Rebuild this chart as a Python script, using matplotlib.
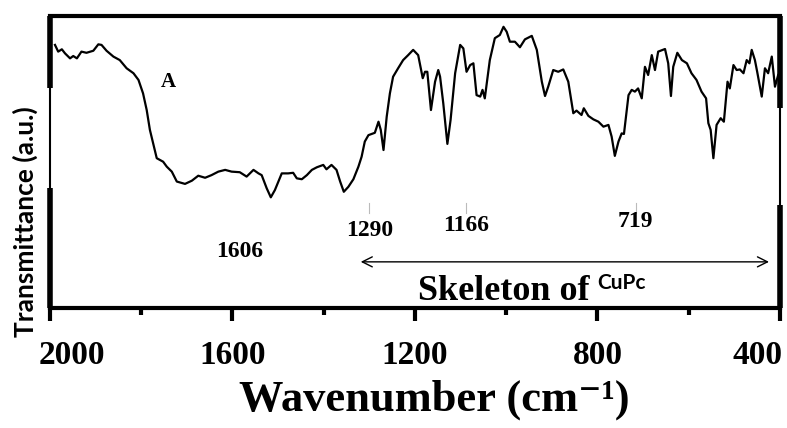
import matplotlib
matplotlib.use("Agg")
import matplotlib.pyplot as plt
import matplotlib.transforms as mtransforms

# FTIR spectrum of CuPc
wavenumber = [1989, 1982, 1974, 1967, 1956, 1949, 1941, 1931, 1920, 1905,
              1894, 1887, 1876, 1861, 1847, 1832, 1817, 1806, 1796, 1788,
              1781, 1774, 1766, 1759, 1752, 1744, 1733, 1722, 1704, 1689,
              1675, 1660, 1646, 1631, 1616, 1602, 1584, 1569, 1554, 1543,
              1536, 1525, 1516, 1507, 1492, 1478, 1467, 1459, 1448, 1437,
              1426, 1415, 1401, 1394, 1383, 1372, 1364, 1356, 1346, 1335,
              1324, 1317, 1310, 1302, 1288, 1280, 1275, 1269, 1262, 1255,
              1248, 1237, 1226, 1215, 1204, 1193, 1183, 1178, 1173, 1165,
              1156, 1149, 1145, 1138, 1129, 1122, 1112, 1101, 1094, 1087,
              1079, 1072, 1065, 1057, 1052, 1047, 1036, 1025, 1014, 1006,
              999, 992, 981, 970, 959, 944, 933, 922, 915, 908,
              897, 886, 875, 864, 853, 846, 835, 830, 820, 809,
              798, 787, 776, 769, 762, 754, 747, 742, 732, 725,
              718, 711, 703, 696, 689, 681, 674, 667, 652, 645,
              639, 634, 625, 615, 604, 594, 583, 572, 562, 557,
              552, 546, 539, 530, 523, 515, 510, 502, 495, 488,
              480, 473, 467, 462, 455, 450, 440, 433, 426, 418,
              411, 404]
transmittance = [90.1, 87.8, 88.6, 87.2, 85.5, 86.3, 85.5, 87.8, 87.4, 88.1,
                 90.3, 90.1, 88.1, 86.1, 84.9, 82.1, 80.4, 78.1, 73.5, 67.8,
                 61.0, 56.4, 51.3, 50.7, 50.1, 48.4, 46.7, 43.3, 42.5, 43.6,
                 45.3, 44.6, 45.5, 46.7, 47.3, 46.7, 46.5, 45.0, 47.3, 46.1,
                 45.5, 41.0, 37.9, 40.4, 46.1, 46.1, 46.3, 44.4, 44.1, 45.5,
                 47.3, 48.2, 49.0, 47.5, 49.0, 47.3, 43.3, 39.8, 41.5, 44.1,
                 48.4, 51.8, 57.0, 59.2, 60.0, 63.8, 61.0, 54.1, 65.5, 73.5,
                 79.2, 82.1, 84.9, 86.6, 88.4, 86.6, 78.7, 80.9, 80.9, 67.8,
                 77.5, 81.5, 79.2, 70.1, 56.2, 64.4, 80.4, 90.1, 88.9, 80.9,
                 83.2, 83.8, 72.9, 72.4, 74.7, 71.8, 84.9, 92.4, 93.5, 96.3,
                 94.6, 91.2, 91.2, 89.3, 92.0, 93.2, 88.4, 77.5, 72.6, 75.8,
                 81.5, 80.9, 81.7, 77.5, 66.7, 67.6, 66.1, 68.4, 65.8, 64.6,
                 63.8, 62.1, 62.7, 58.7, 52.1, 57.0, 59.8, 59.6, 72.9, 74.7,
                 74.1, 75.2, 71.8, 82.6, 79.8, 86.6, 81.5, 87.8, 88.7, 83.8,
                 72.6, 82.6, 87.4, 84.9, 83.8, 80.4, 78.1, 74.1, 71.8, 63.3,
                 61.0, 51.3, 62.7, 65.0, 63.8, 77.5, 75.2, 83.2, 81.5, 81.7,
                 80.4, 84.9, 83.8, 88.4, 84.9, 80.9, 72.4, 82.1, 80.4, 86.1,
                 75.8, 79.8]

major_ticks = [2000, 1600, 1200, 800, 400]
minor_ticks = [1800, 1400, 1000, 600]

# peak labels (text, wavenumber, height) and the small marks above some of them
peak_labels = [("1606", 1584, 19.2), ("1290", 1299, 26.7),
               ("1166", 1088, 28.4), ("719", 718, 29.5)]
peak_marks = [1301, 1088, 716]

serif = "Liberation Serif"

fig = plt.figure(figsize=(7.87, 4.28), dpi=100)
ax = fig.add_axes([0.0635, 0.2804, 0.9276, 0.6822])

ax.plot(wavenumber, transmittance, color="black", lw=1.6)

ax.set_xlim(2000, 400)
ax.set_ylim(0, 100)
ax.set_xticks(major_ticks)
ax.set_xticks(minor_ticks, minor=True)
ax.set_yticks([])
ax.tick_params(axis="x", which="major", direction="out", length=9, width=3,
               pad=14, labelsize=24)
ax.tick_params(axis="x", which="minor", direction="out", length=5, width=3)
for lab in ax.get_xticklabels():
    lab.set_fontfamily(serif)
    lab.set_fontweight("bold")

# end labels sit inside the frame in the original
labs = ax.get_xticklabels()
labs[0].set_transform(labs[0].get_transform() +
                      mtransforms.ScaledTranslation(0.22, 0, fig.dpi_scale_trans))
labs[-1].set_transform(labs[-1].get_transform() +
                       mtransforms.ScaledTranslation(-0.22, 0, fig.dpi_scale_trans))

# frame: top and bottom thick, sides thick with a thinner middle piece
ax.spines["top"].set_linewidth(3)
ax.spines["bottom"].set_linewidth(3)
ax.spines["left"].set_visible(False)
ax.spines["right"].set_visible(False)
for x0, segs in [(0, [(0.753, 1.0, 4), (0.411, 0.753, 1.5), (0.0, 0.411, 4)]),
                 (1, [(0.685, 1.0, 4), (0.353, 0.685, 1.5), (0.0, 0.353, 4)])]:
    for y0, y1, w in segs:
        ax.plot([x0, x0], [y0, y1], color="black", lw=w,
                transform=ax.transAxes, clip_on=False, solid_capstyle="butt")

ax.set_xlabel("Wavenumber (cm\u207b\u00b9)", family=[serif, "DejaVu Serif"],
              fontweight="bold", fontsize=32)
ax.xaxis.set_label_coords(0.527, -0.245)
ax.set_ylabel("Transmittance (a.u.)", fontfamily="Lato", fontweight="bold",
              fontsize=19)
ax.yaxis.set_label_coords(-0.016, 0.295)

ax.text(1741, 77.4, "A", fontfamily=serif, fontweight="bold", fontsize=15,
        ha="center", va="center")

for txt, x, y in peak_labels:
    ax.text(x, y, txt, fontfamily=serif, fontweight="bold", fontsize=17,
            ha="center", va="center")
for x in peak_marks:
    ax.plot([x, x], [32.5, 36], color="#bbbbbb", lw=0.8)

ax.annotate("", xy=(1325, 15.8), xytext=(418, 15.8),
            arrowprops=dict(arrowstyle="<->", color="black", lw=1.0,
                            mutation_scale=18))
ax.text(1193, 5.8, "Skeleton of", fontfamily=serif, fontweight="bold",
        fontsize=26, ha="left", va="center")
ax.text(800, 8.6, "CuPc", fontfamily="Lato", fontweight="bold", fontsize=15,
        ha="left", va="center")

fig.savefig("out.png", dpi=100)
